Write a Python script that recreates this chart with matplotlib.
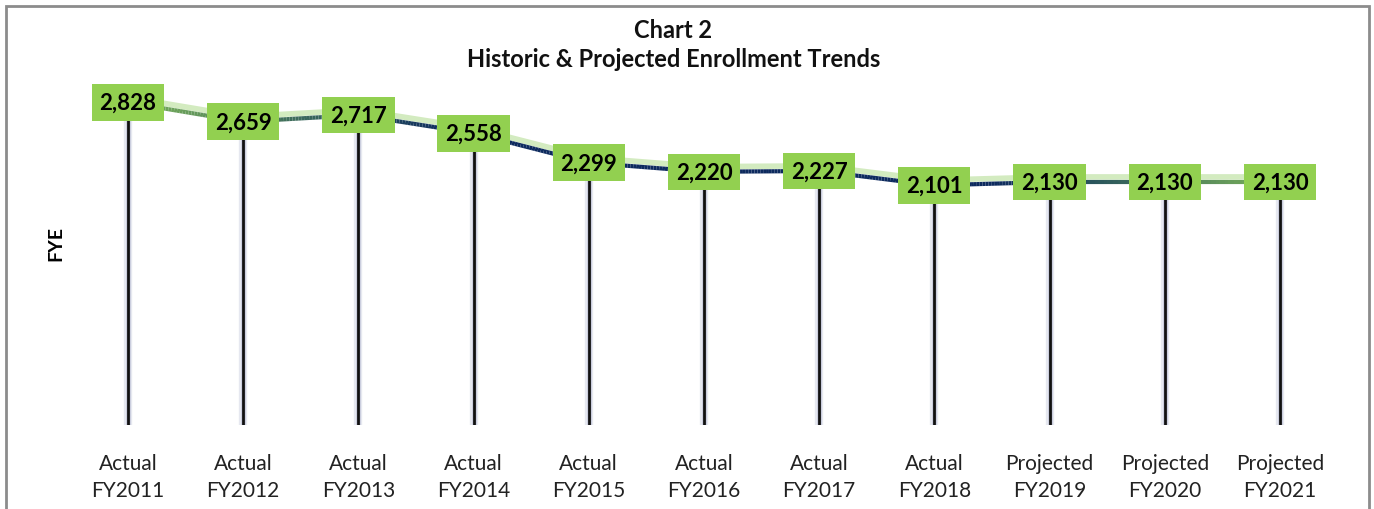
import matplotlib.pyplot as plt
import numpy as np
from matplotlib.collections import LineCollection
from matplotlib.colors import LinearSegmentedColormap
from matplotlib.patches import Rectangle

plt.rcParams["font.family"] = ["Lato", "DejaVu Sans"]

status = ["Actual"] * 8 + ["Projected"] * 3
years = ["FY2011", "FY2012", "FY2013", "FY2014", "FY2015", "FY2016",
         "FY2017", "FY2018", "FY2019", "FY2020", "FY2021"]
fye = [2828, 2659, 2717, 2558, 2299, 2220, 2227, 2101, 2130, 2130, 2130]

tick_labels = [s + "\n" + y for s, y in zip(status, years)]
x = np.arange(len(fye))
y = np.array(fye, dtype=float)

fig = plt.figure(figsize=(13.74, 5.1), dpi=100)
ax = fig.add_axes([0.0512, 0.1647, 0.9223, 0.7157])
ax.set_xlim(-0.5, len(fye) - 0.5)
ax.set_ylim(0, 3200)

# outer chart border
fig.patches.append(Rectangle((6 / 1374, -0.1), 1363 / 1374, 1.1 - 7 / 510,
                             transform=fig.transFigure, fill=False,
                             edgecolor="#8c8c8c", linewidth=2))

# drop lines with soft glow
for xi, yi in zip(x, y):
    ax.plot([xi, xi], [0, yi], color="#e6e8f0", linewidth=6, solid_capstyle="butt", zorder=1)
    ax.plot([xi, xi], [0, yi], color="#c9cddd", linewidth=3.5, solid_capstyle="butt", zorder=1)
    ax.plot([xi, xi], [0, yi], color="#111111", linewidth=2, solid_capstyle="butt", zorder=2)

# light green highlight above the trend line
ax.plot(x, y + 45, color="#d3ebc0", linewidth=4, zorder=2, solid_capstyle="round")

# gradient trend line: green at ends, navy in the middle
fine_x = np.linspace(0, len(fye) - 1, 400)
fine_y = np.interp(fine_x, x, y)
pts = np.array([fine_x, fine_y]).T.reshape(-1, 1, 2)
segs = np.concatenate([pts[:-1], pts[1:]], axis=1)
cmap = LinearSegmentedColormap.from_list(
    "trend", [(0, "#7bb35a"), (0.18, "#2e5a5c"), (0.28, "#0d2a5e"),
              (0.75, "#0d2a5e"), (0.85, "#2e5a5c"), (1, "#7bb35a")])
lc = LineCollection(segs, cmap=cmap, linewidth=3, zorder=3)
lc.set_array(fine_x[:-1] / (len(fye) - 1))
ax.add_collection(lc)

# value labels in green boxes
for xi, yi in zip(x, y):
    ax.text(xi, yi, f"{int(yi):,}", ha="center", va="center", fontsize=16,
            fontweight="bold", color="black", zorder=5,
            bbox=dict(boxstyle="square,pad=0.35", facecolor="#92d050", edgecolor="none"))

ax.set_xticks(x)
ax.set_xticklabels(tick_labels, fontsize=15, color="#222222", linespacing=1.45)
ax.tick_params(axis="x", length=0, pad=20)
ax.set_yticks([])
for s in ax.spines.values():
    s.set_visible(False)

ax.set_ylabel("FYE", fontsize=14, fontweight="bold", labelpad=4)

fig.text(0.49, 0.912, "Chart 2\nHistoric & Projected Enrollment Trends",
         ha="center", va="center", fontsize=17, fontweight="bold",
         linespacing=1.35, color="#111111")

fig.savefig("out.png", dpi=100)
